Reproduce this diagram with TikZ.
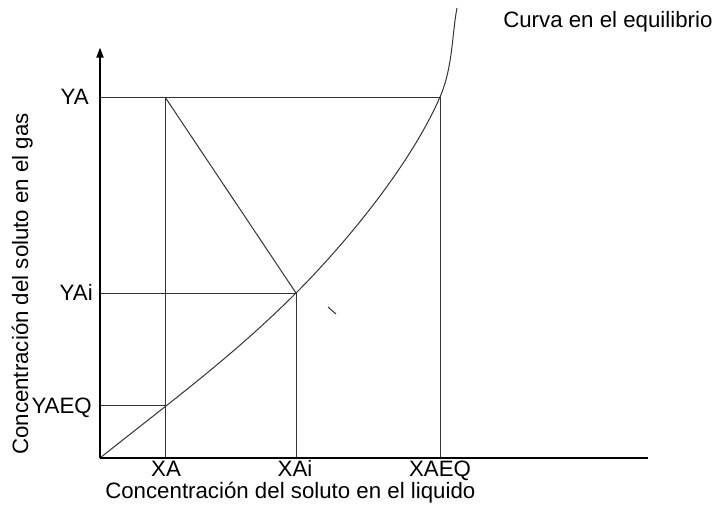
\documentclass[tikz,border=0pt]{standalone}
\usepackage{fontspec}
\setmainfont{Liberation Sans}
\usetikzlibrary{arrows.meta}
\begin{document}
\begin{tikzpicture}[x=0.75pt,y=-0.75pt,
  thin line/.style={draw=black!80,line width=0.75pt},
  axis/.style={draw=black,line width=2pt},
  lbl/.style={font=\fontsize{16.7}{19}\selectfont,inner sep=0pt},
  every node/.style={lbl}]
\useasboundingbox (0,0) rectangle (716,504);
% key points
\coordinate (O) at (100,458);
\coordinate (Ytop) at (100,47);
\coordinate (Xend) at (648,458);
\coordinate (P) at (165,97);     % operating point
\coordinate (I) at (296,293);    % interface point
\coordinate (E) at (440,97);     % XAEQ on curve
\coordinate (Q) at (165,405);    % YAEQ on curve
\coordinate (Top) at (457,8);    % curve end
\coordinate (YAa) at (100,97);
\coordinate (YAia) at (100,293);
\coordinate (YAEQa) at (100,405);
\coordinate (XAa) at (165,458);
\coordinate (XAia) at (296,458);
\coordinate (XAEQa) at (440,458);
\coordinate (T1) at (328,307);
\coordinate (T2) at (336,314);
% equilibrium curve
\draw[thin line] (O) .. controls (165,406) and (231,358) .. (I)
  .. controls (344,245) and (410,166) .. (E)
  .. controls (453,67) and (452,33) .. (Top);
% construction lines
\draw[thin line] (YAa) -- (E);
\draw[thin line] (P) -- (XAa);
\draw[thin line] (P) -- (I);
\draw[thin line] (YAia) -- (I);
\draw[thin line] (I) -- (XAia);
\draw[thin line] (E) -- (XAEQa);
\draw[thin line] (YAEQa) -- (Q);
\draw[thin line] (T1) -- (T2);
% axes
\draw[axis,-{Triangle[length=8pt,width=5pt]}] (O) -- (Ytop);
\draw[axis] (O) -- (Xend);
% labels
\node[anchor=base east] (lYA) at (89,104) {YA};
\node[anchor=base east] (lYAi) at (93,300) {YAi};
\node[anchor=base east] (lYAEQ) at (92,413) {YAEQ};
\node[anchor=base] (lXA) at (166,476) {XA};
\node[anchor=base] (lXAi) at (295,476) {XAi};
\node[anchor=base] (lXAEQ) at (440,476) {XAEQ};
\node[anchor=base west] (xlab) at (105,498) {Concentración del soluto en el liquido};
\node[rotate=90,anchor=base west] (ylab) at (28,455) {Concentración del soluto en el gas};
\node[anchor=base west] (clab) at (503,27) {Curva en el equilibrio};
\end{tikzpicture}
\end{document}
